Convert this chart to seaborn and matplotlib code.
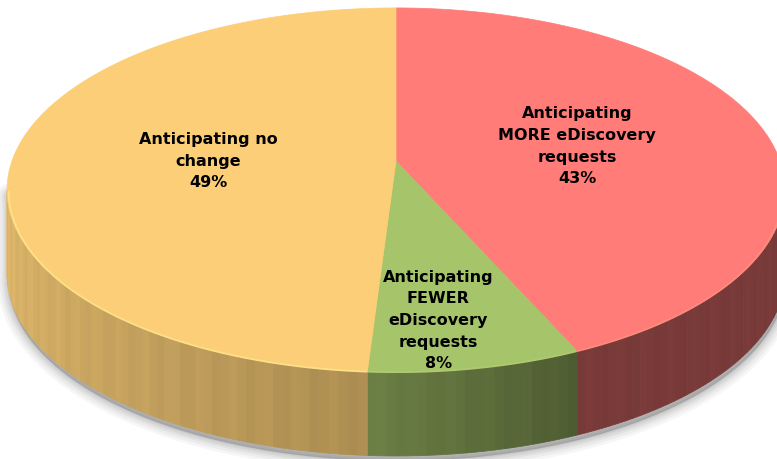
import numpy as np
import matplotlib
matplotlib.use("Agg")
import matplotlib.pyplot as plt
import seaborn as sns
from matplotlib.patches import Polygon
from matplotlib.colors import to_rgb

# ---------------- data ----------------
categories = ["Anticipating\nMORE eDiscovery\nrequests",
              "Anticipating\nFEWER\neDiscovery\nrequests",
              "Anticipating no\nchange"]
values = [43.4, 7.6, 49.0]
colors = ["#FF7C78", "#A6C46A", "#FBCE77"]

# ---------------- style ----------------
sns.set_theme(style="white")
plt.rcParams["font.family"] = ["DejaVu Sans"]

fig = plt.figure(figsize=(7.77, 4.6), dpi=100)
ax = fig.add_axes([0, 0, 1, 1])

wedges, _ = ax.pie(values, startangle=90, counterclock=False,
                   colors=colors, radius=1.0)

# perspective projection of the unit disc onto the canvas (pixels)
CX, CY, A, B, K, DEPTH = 396.0, 162.0, 384.0, 177.4, 0.159, 84.0


def persp(pts):
    pts = np.asarray(pts, float)
    u, v = pts[:, 0], pts[:, 1]
    w = 1 + K * v
    return np.column_stack([CX + A * u / w, CY - B * v / w])


def flatten(path):
    segs = [seg(np.linspace(0, 1, 60)) for seg, code in path.iter_bezier()]
    return np.concatenate(segs)


def arc(t0, t1, n=60, r=1.0):
    th = np.radians(np.linspace(t0, t1, n))
    return np.column_stack([r * np.cos(th), r * np.sin(th)])


lo = 180 + np.degrees(np.arcsin(K))
hi = 360 - np.degrees(np.arcsin(K))

# soft drop shadow below the extruded side
top_front = persp(arc(lo, hi, 200))
bot_front = persp(arc(lo, hi, 200)) + [0, DEPTH]
sil = np.vstack([top_front, bot_front[::-1]]) + [1, 5]
for lw_, al in [(16, 0.05), (12, 0.06), (8, 0.07), (5, 0.08), (2, 0.09)]:
    ax.add_patch(Polygon(sil, closed=True, fc="#555555", ec="#555555",
                         lw=lw_, alpha=al, joinstyle="round", zorder=1))

# side (extruded) faces, shaded by position
side_shade = [(0.47, 0.47), (0.65, 0.47), (0.90, 0.69)]
for wdg, col, sh in zip(wedges, colors, side_shade):
    base = np.array(to_rgb(col))
    t1, t2 = wdg.theta1, wdg.theta2
    for shift in (-360, 0, 360, 720):
        a, b = max(t1 + shift, lo), min(t2 + shift, hi)
        if b <= a:
            continue
        n = max(2, int((b - a) / 1.2))
        ths = np.linspace(a, b, n + 1)
        for i in range(n):
            frac = (0.5 * (ths[i] + ths[i + 1]) - a) / (b - a)
            f = sh[0] + (sh[1] - sh[0]) * frac
            f *= 1 + 0.02 * np.sin(i * 1.7)
            c = np.clip(base * f, 0, 1)
            pts = persp(arc(ths[i], ths[i + 1], 4))
            poly = np.vstack([pts, pts[::-1] + [0, DEPTH]])
            ax.add_patch(Polygon(poly, closed=True, fc=c, ec=c, lw=0.6,
                                 zorder=2))

# top faces
highlight = [0.12, 0.12, 0.5]
for wdg, col, hl in zip(wedges, colors, highlight):
    pts = persp(flatten(wdg.get_path()))
    ax.add_patch(Polygon(pts, closed=True, fc=col, ec=col, lw=0.5, zorder=3))
    base = np.array(to_rgb(col))
    light = base + (np.array([1, 0.95, 0.6]) - base).clip(0) * hl
    t1, t2 = wdg.theta1, wdg.theta2
    for shift in (-360, 0, 360, 720):
        a, b = max(t1 + shift, lo), min(t2 + shift, hi)
        if b > a:
            e = persp(arc(a, b, 80, r=0.996))
            ax.plot(e[:, 0], e[:, 1] + 1.2, color=light, lw=1.3,
                    solid_capstyle="butt", zorder=4)
    wdg.remove()

# labels
label_r = [0.49, 0.78, 0.49]
label_dt = [0.0, -3.0, 0.0]
total = sum(values)
for wdg, cat, v, r, dt in zip(wedges, categories, values, label_r, label_dt):
    mid = np.radians(0.5 * (wdg.theta1 + wdg.theta2) + dt)
    p = persp([[r * np.cos(mid), r * np.sin(mid)]])[0]
    ax.text(p[0], p[1] + 2, f"{cat}\n{v / total * 100:.0f}%", ha="center",
            va="center", ma="center", fontsize=11.5, fontweight="bold",
            color="black", linespacing=1.55, zorder=5)

ax.set_aspect("auto")
ax.set_xlim(0, 777)
ax.set_ylim(460, 0)
ax.axis("off")

fig.savefig("out.png", dpi=100)
